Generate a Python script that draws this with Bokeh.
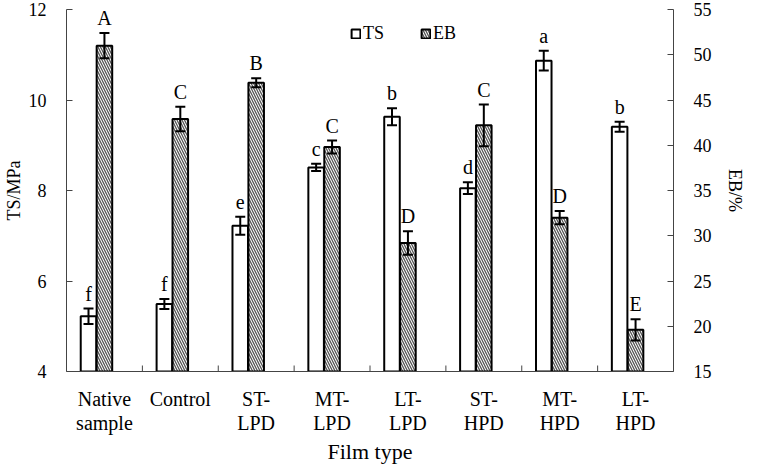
import numpy as np
from bokeh.plotting import figure
from bokeh.models import (Range1d, LinearAxis, FixedTicker, SingleIntervalTicker, Whisker,
                          ColumnDataSource, Legend, LegendItem, TeeHead)
from bokeh.core.properties import value
from bokeh.embed import file_html
from bokeh.resources import INLINE

categories = ["Native\nsample", "Control", "ST-\nLPD", "MT-\nLPD", "LT-\nLPD", "ST-\nHPD", "MT-\nHPD", "LT-\nHPD"]
ts_values = [5.22, 5.49, 7.22, 8.51, 9.63, 8.05, 10.87, 9.41]
ts_errors = [0.17, 0.11, 0.20, 0.08, 0.19, 0.13, 0.22, 0.11]
eb_values = [51.0, 42.9, 46.9, 39.8, 29.2, 42.2, 32.0, 19.6]
eb_errors = [1.40, 1.35, 0.50, 0.72, 1.30, 2.30, 0.74, 1.17]
ts_letters = ["f", "f", "e", "c", "b", "d", "a", "b"]
eb_letters = ["A", "C", "B", "C", "D", "C", "D", "E"]

FONT = "Liberation Serif"
n = len(categories)
centers = np.arange(n) + 0.5
ts_x = centers - 0.21
eb_x = centers
bw = 0.205

ts_src = ColumnDataSource(dict(x=ts_x, top=ts_values,
                               lower=np.array(ts_values) - np.array(ts_errors),
                               upper=np.array(ts_values) + np.array(ts_errors),
                               lab=ts_letters))
eb_src = ColumnDataSource(dict(x=eb_x, top=eb_values,
                               lower=np.array(eb_values) - np.array(eb_errors),
                               upper=np.array(eb_values) + np.array(eb_errors),
                               lab=eb_letters))

p = figure(width=750, height=466, x_range=Range1d(0, n), y_range=Range1d(4, 12),
           output_backend="svg", toolbar_location=None,
           min_border_left=58, min_border_right=77, min_border_top=9, min_border_bottom=90)
p.extra_y_ranges = {"eb": Range1d(15, 55)}
p.outline_line_color = None
p.grid.grid_line_color = None
p.background_fill_color = "white"

ts_r = p.vbar(x="x", top="top", bottom=4, width=bw, source=ts_src,
              fill_color="white", line_color="black", line_width=2)
eb_r = p.vbar(x="x", top="top", bottom=15, width=bw, source=eb_src, y_range_name="eb",
              fill_color="white", line_color="black", line_width=2,
              hatch_pattern="left_diagonal_line", hatch_color="#555555",
              hatch_scale=5, hatch_weight=1.3)

for src, rng in ((ts_src, "default"), (eb_src, "eb")):
    w = Whisker(base="x", lower="lower", upper="upper", source=src, y_range_name=rng,
                line_color="black", line_width=2, level="overlay",
                upper_head=TeeHead(size=10, line_width=2, line_color="black"),
                lower_head=TeeHead(size=10, line_width=2, line_color="black"))
    p.add_layout(w)

p.text(x="x", y="upper", text="lab", source=ts_src, text_font=value(FONT),
       text_font_size="20px", text_align="center", text_baseline="alphabetic",
       y_offset=-15, text_color="black")
p.text(x="x", y="upper", text="lab", source=eb_src, y_range_name="eb", text_font=value(FONT),
       text_font_size="20px", text_align="center", text_baseline="alphabetic",
       y_offset=-15, text_color="black")

# category boundary ticks on the x axis (pointing inward)
p.ray(x=np.arange(1, n), y=4, length=6, length_units="screen", angle=np.pi / 2,
      line_color="#444444", line_width=1)

axis_color = "#444444"
xa = p.xaxis[0]
xa.ticker = FixedTicker(ticks=list(centers))
xa.major_label_overrides = {float(c): lab for c, lab in zip(centers, categories)}
xa.major_tick_in = 0
xa.major_tick_out = 0
xa.minor_tick_line_color = None
xa.axis_line_color = axis_color
xa.major_label_text_font = FONT
xa.major_label_text_font_size = "20px"
xa.major_label_text_color = "black"
xa.major_label_text_line_height = 1.1
xa.major_label_standoff = 16
xa.axis_label = "Film type"
xa.axis_label_text_font = FONT
xa.axis_label_text_font_size = "22px"
xa.axis_label_text_font_style = "normal"
xa.axis_label_text_color = "black"
xa.axis_label_text_line_height = 1.0
xa.axis_label_standoff = 2

ya = p.yaxis[0]
ya.ticker = SingleIntervalTicker(interval=2)
ya.axis_label = "TS/MPa"

yb = LinearAxis(y_range_name="eb", ticker=SingleIntervalTicker(interval=5), axis_label="EB/%")
p.add_layout(yb, "right")

for ax in (ya, yb):
    ax.major_tick_in = 6
    ax.major_tick_out = 0
    ax.minor_tick_line_color = None
    ax.axis_line_color = axis_color
    ax.major_tick_line_color = axis_color
    ax.major_label_text_font = FONT
    ax.major_label_text_font_size = "18px"
    ax.major_label_text_color = "black"
    ax.major_label_standoff = 16
    ax.axis_label_text_font = FONT
    ax.axis_label_text_font_size = "18px"
    ax.axis_label_text_font_style = "normal"
    ax.axis_label_text_color = "black"
ya.axis_label_standoff = 2
yb.axis_label_standoff = 10

legend = Legend(items=[LegendItem(label="TS", renderers=[ts_r]),
                       LegendItem(label="EB", renderers=[eb_r])],
                orientation="horizontal", location=(284, 327),
                glyph_width=11, glyph_height=11, label_standoff=2, spacing=36,
                padding=0, margin=0, border_line_alpha=0, background_fill_alpha=0,
                label_text_font=FONT, label_text_font_size="18px", label_text_color="black",
                label_height=14)
p.add_layout(legend)

open("out.html", "w").write(file_html(p, INLINE))
